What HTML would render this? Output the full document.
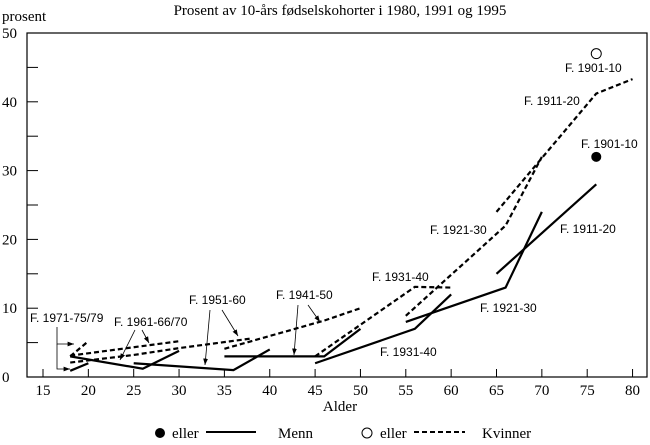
<!DOCTYPE html>
<html><head><meta charset="utf-8">
<style>
body{margin:0;background:#fff;}
svg text{font-family:"Liberation Serif",serif;}
svg .ann text{font-family:"Liberation Sans",sans-serif;font-size:12px;}
</style></head>
<body>
<svg id="chart" width="650" height="440" viewBox="0 0 650 440" xmlns="http://www.w3.org/2000/svg">
<defs><marker id="ah" markerWidth="8" markerHeight="6" refX="8" refY="3" orient="auto"><path d="M0,0 L8,3 L0,6 z" fill="#000"/></marker></defs>
<text x="340" y="15" text-anchor="middle" font-size="15">Prosent av 10-års fødselskohorter i 1980, 1991 og 1995</text>
<text x="2" y="21" font-size="15">prosent</text>
<text x="340" y="411" text-anchor="middle" font-size="15">Alder</text>
<rect x="27" y="33" width="620" height="344" fill="none" stroke="#000" stroke-width="1.2"/>
<g id="axes"></g>
<g id="series"></g>
<g id="annotations" class="ann">
<text x="30" y="322">F. 1971-75/79</text>
<text x="114" y="326">F. 1961-66/70</text>
<text x="189" y="304">F. 1951-60</text>
<text x="276" y="299">F. 1941-50</text>
<text x="372" y="281">F. 1931-40</text>
<text x="430" y="234">F. 1921-30</text>
<text x="524" y="105">F. 1911-20</text>
<text x="565" y="72">F. 1901-10</text>
<text x="581" y="148">F. 1901-10</text>
<text x="560" y="233">F. 1911-20</text>
<text x="480" y="312">F. 1921-30</text>
<text x="380" y="356">F. 1931-40</text>
<g stroke="#000" stroke-width="0.8" fill="none">
<path d="M57,327 V344 H74" marker-end="url(#ah)"/>
<path d="M57,344 V369 H70" marker-end="url(#ah)"/>
<path d="M135,330 L120,360" marker-end="url(#ah)"/>
<path d="M142,330 L149,343" marker-end="url(#ah)"/>
<path d="M210,310 L205,365" marker-end="url(#ah)"/>
<path d="M222,310 L238,336" marker-end="url(#ah)"/>
<path d="M298,305 L294,355" marker-end="url(#ah)"/>
<path d="M308,305 L320,322" marker-end="url(#ah)"/>
</g>
</g>
<g id="legend" font-size="15">
<circle cx="160" cy="433" r="5" fill="#000"/>
<text x="172" y="438">eller</text>
<line x1="206" y1="432" x2="256" y2="432" stroke="#000" stroke-width="2"/>
<text x="278" y="438">Menn</text>
<circle cx="367" cy="433" r="5" fill="#fff" stroke="#000"/>
<text x="380" y="438">eller</text>
<line x1="414" y1="432" x2="465" y2="432" stroke="#000" stroke-width="2" stroke-dasharray="5,3"/>
<text x="482" y="438">Kvinner</text>
</g>
</svg>
<script>
const xTicks=[15,20,25,30,35,40,45,50,55,60,65,70,75,80];
const yTicks=[0,10,20,30,40,50];
const yMinor=[5,15,25,35,45];
const menCohorts=["1971-75/79","1961-66/70","1951-60","1941-50","1931-40","1921-30","1911-20"];
const menAges=[[18,20],[18,26,30],[25,36,40],[35,46,50],[45,56,60],[55,66,70],[65,76]];
const menValues=[[0.9,2],[3,1.2,3.8],[2,1,4],[3,3,7],[2,7,12],[8,13,24],[15,28]];
const womenCohorts=["1971-75/79","1961-66/70","1951-60","1941-50","1931-40","1921-30","1911-20"];
const womenAges=[[18,20],[18,30],[18,25,30,38],[35,46,50],[45,56,60],[55,66,70],[65,76,80]];
const womenValues=[[3,5.2],[3.1,5.2],[2.1,3.2,4.2,5.6],[4.1,8.2,10],[3,13.1,13],[8.9,22,32],[24,41.2,43.3]];
const dotMen=[76,32];
const dotWomen=[76,47];
const X=v=>43+(v-15)*9.07;
const Y=v=>377-v*6.88;
const NS="http://www.w3.org/2000/svg";
function mk(t,a,p){const e=document.createElementNS(NS,t);for(const k in a)e.setAttribute(k,a[k]);p.appendChild(e);return e;}
const ax=document.getElementById('axes');
xTicks.forEach(v=>{
 const l=mk('line',{x1:X(v),x2:X(v),y1:377,y2:369,stroke:'#000'},ax);
 
 
 const t=mk('text',{x:X(v),y:395,'text-anchor':'middle','font-size':15},ax);t.textContent=v;
 
 
});
yTicks.concat(yMinor).forEach(v=>{
 const l=mk('line',{x1:27,x2:38,y1:Y(v),y2:Y(v),stroke:'#000'},ax);
 
 
});
yTicks.forEach(v=>{
 const t=mk('text',{x:2,y:Y(v)+5,'font-size':15},ax);t.textContent=v;
 
 
});
const sg=document.getElementById('series');
function line(ages,vals,dash,name){
 const p=mk('polyline',{points:ages.map((a,i)=>X(a)+','+Y(vals[i])).join(' '),fill:'none',stroke:'#000','stroke-width':2.2},sg);
 if(dash)p.setAttribute('stroke-dasharray','5,3');
 
 
}
menAges.forEach((a,i)=>line(a,menValues[i],false,'men-line'));
womenAges.forEach((a,i)=>line(a,womenValues[i],true,'women-line'));
const d1=mk('circle',{cx:X(dotMen[0]),cy:Y(dotMen[1]),r:5,fill:'#000'},sg);


const d2=mk('circle',{cx:X(dotWomen[0]),cy:Y(dotWomen[1]),r:5,fill:'#fff',stroke:'#000'},sg);


</script>
</body></html>
